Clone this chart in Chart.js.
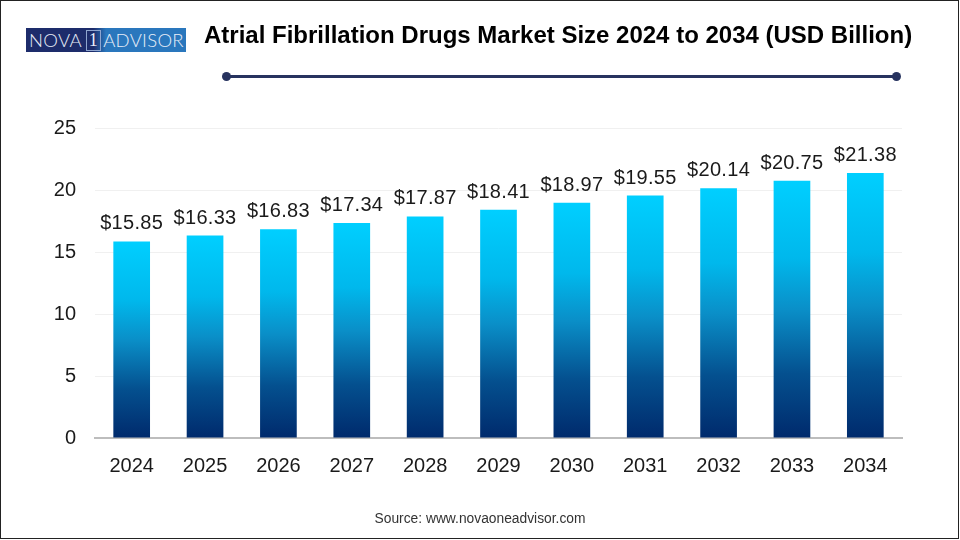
<!DOCTYPE html>
<html>
<head>
<meta charset="utf-8">
<script src="https://cdn.jsdelivr.net/npm/chart.js@4/dist/chart.umd.min.js"></script>
<style>
  html, body { margin: 0; padding: 0; background: #fff; }
  #wrap { position: relative; width: 960px; height: 540px; overflow: hidden; font-family: "Liberation Sans", Arial, sans-serif; }
  #frame { position: absolute; left: 0; top: 0; width: 957px; height: 537px; border: 1px solid #222; pointer-events: none; }
  #logo { position: absolute; left: 26px; top: 28px; width: 160px; height: 24px; display: flex; align-items: center; color: #e8eef8; font-family: "Lato", sans-serif; font-weight: 300; font-size: 18.5px; letter-spacing: 0.3px;
          background: linear-gradient(90deg, #1d2c6b 0%, #1d2c6b 42%, #2a77bd 50%, #2a77bd 100%); white-space: nowrap; overflow: hidden; }
  #logo span { margin-left: 3px; }
  #logo b { font-weight: 400; font-family: "Liberation Serif", serif; border: 1px solid #8fa5cf; padding: 0 2px; height: 19px; line-height: 19px; font-size: 18px; margin: 0 2px 0 4px; }
  #title { position: absolute; left: 204px; top: 21px; font-size: 24px; font-weight: 700; color: #000; white-space: nowrap; }
  #rule { position: absolute; left: 226px; top: 75px; width: 671px; height: 3px; background: #27335f; }
  .dot { position: absolute; top: 72px; width: 9px; height: 9px; border-radius: 50%; background: #27335f; }
  #source { position: absolute; left: 0; width: 960px; text-align: center; top: 511px; font-size: 13.8px; color: #333; }
  canvas { position: absolute; left: 0; top: 0; }
</style>
</head>
<body>
<div id="wrap">
  <canvas id="chart" width="960" height="540"></canvas>
  <div id="logo"><span>NOVA</span><b>1</b>ADVISOR</div>
  <div id="title">Atrial Fibrillation Drugs Market Size 2024 to 2034 (USD Billion)</div>
  <div id="rule"></div>
  <div class="dot" style="left:222px"></div>
  <div class="dot" style="left:892px"></div>
  <div id="source">Source: www.novaoneadvisor.com</div>
  <div id="frame"></div>
</div>
<script>
var years = ["2024","2025","2026","2027","2028","2029","2030","2031","2032","2033","2034"];
var marketSize = [15.85,16.33,16.83,17.34,17.87,18.41,18.97,19.55,20.14,20.75,21.38];
var yTicks = [0,5,10,15,20,25];

// each bar gets its own top to bottom fade
function barGradient(ctx) {
    var chart = ctx.chart;
    if (!chart.chartArea || ctx.parsed === undefined) return "#00cfff";
    var y = chart.scales.y;
    var g = chart.ctx.createLinearGradient(0, y.getPixelForValue(ctx.parsed.y), 0, y.getPixelForValue(0));
    g.addColorStop(0, "#00cfff");
    g.addColorStop(0.3, "#00b8ec");
    g.addColorStop(0.5, "#0a8fc8");
    g.addColorStop(0.75, "#04508f");
    g.addColorStop(1, "#002a6c");
    return g;
}

// dollar labels above the bars
var valueLabels = {
    id: "valueLabels",
    afterDatasetsDraw: function(chart) {
        var c = chart.ctx;
        var meta = chart.getDatasetMeta(0);
        c.save();
        c.font = "20px 'Liberation Sans'";
        c.letterSpacing = "0.3px";
        c.fillStyle = "#1a1a1a";
        c.textAlign = "center";
        c.textBaseline = "alphabetic";
        meta.data.forEach(function(bar, i) {
            c.fillText("$" + marketSize[i].toFixed(2), bar.x, bar.y - 12);
        });
        c.restore();
    }
};

new Chart(document.getElementById("chart").getContext("2d"), {
    type: "bar",
    data: {
        labels: years,
        datasets: [{
            data: marketSize,
            backgroundColor: barGradient,
            barPercentage: 0.5,
            categoryPercentage: 1
        }]
    },
    options: {
        responsive: false,
        animation: false,
        layout: { padding: { left: 0, right: 58, top: 128, bottom: 0 } },
        plugins: { legend: { display: false }, tooltip: { enabled: false } },
        scales: {
            x: {
                afterFit: function(s) { s.height = 102; },
                grid: { display: false, drawTicks: false },
                border: { color: "#bdbdbd", width: 2 },
                ticks: { color: "#1a1a1a", font: { family: "Liberation Sans", size: 20 }, padding: 16, maxRotation: 0 }
            },
            y: {
                min: 0,
                max: 25,
                afterFit: function(s) { s.width = 95; },
                afterBuildTicks: function(s) { s.ticks = yTicks.map(function(v) { return { value: v }; }); },
                grid: { color: "#f0f0f0", lineWidth: 1, drawTicks: false },
                border: { display: false },
                ticks: { color: "#1a1a1a", font: { family: "Liberation Sans", size: 20 }, padding: 19 }
            }
        }
    },
    plugins: [valueLabels]
});
</script>
</body>
</html>
